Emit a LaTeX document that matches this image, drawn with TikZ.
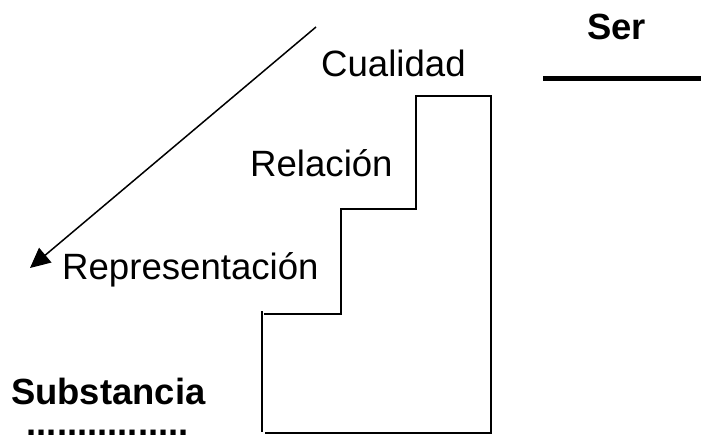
\documentclass[tikz,border=0pt]{standalone}
\usepackage{fontspec}
\setmainfont{Liberation Sans}
\usetikzlibrary{arrows.meta}
\begin{document}
\begin{tikzpicture}[x=1pt,y=-1pt,
  lbl/.style={anchor=base west,inner sep=0pt,font=\fontsize{36.6}{40}\selectfont},
  blbl/.style={lbl,font=\fontsize{36.4}{40}\selectfont\bfseries},
  stair/.style={line width=2pt,line cap=butt,line join=miter},
  arr/.style={line width=1.5pt,-{Triangle[length=20pt,width=19pt]}}]
\useasboundingbox (0,0) rectangle (701,436);
% labels
\node[lbl] (cual) at (321,76) {Cualidad};
\node[lbl] (rel) at (250,176) {Relación};
\node[lbl] (rep) at (62,279) {Representación};
\node[blbl] (ser) at (587,40) {Ser};
\node[blbl] (sub) at (11,404) {Substancia};
\node[blbl,text height=5.5pt,text depth=0pt] (dots) at (26.5,435.5) {................};
% Ser line
\draw[line width=5pt] (543,78) -- (701,78);
% arrow
\coordinate (astart) at (316,27);
\coordinate (aend) at (30,268);
\draw[arr] (astart) -- (aend);
% staircase
\draw[stair] (264,314) -- (341,314) -- (341,209) -- (416,209) -- (416,96) -- (491,96) -- (491,433) -- (265,433);
\draw[stair] (262,311) -- (262,432);
\end{tikzpicture}
\end{document}
